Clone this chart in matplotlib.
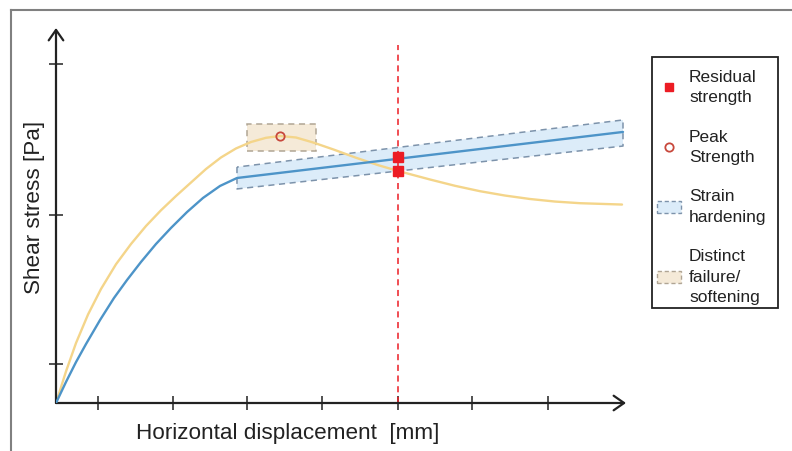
import matplotlib
matplotlib.use("Agg")
import matplotlib.pyplot as plt
from matplotlib.lines import Line2D
from matplotlib.patches import Patch, Rectangle

plt.rcParams['font.family'] = ['Liberation Sans', 'DejaVu Sans']

# ---------------- data (arbitrary units: displacement [mm], stress [Pa]) ----------------
# softening curve (yellow): rises to a distinct peak, then drops to a residual level
soft_x = [0, 0.133, 0.267, 0.427, 0.6, 0.8, 1.0, 1.2, 1.4, 1.6, 1.8, 2.0, 2.2, 2.4,
          2.6, 2.8, 2.987, 3.2, 3.427, 3.7, 4.0, 4.3, 4.56, 4.987, 5.32, 5.653,
          5.987, 6.32, 6.653, 6.987, 7.547]
soft_y = [0, 0.21, 0.40, 0.59, 0.76, 0.925, 1.06, 1.18, 1.285, 1.38, 1.47, 1.56,
          1.637, 1.697, 1.74, 1.768, 1.78, 1.77, 1.737, 1.69, 1.635, 1.585, 1.547,
          1.49, 1.448, 1.412, 1.383, 1.36, 1.343, 1.332, 1.323]

# hardening curve (blue): rises, then keeps increasing linearly
hard_x = [0, 0.133, 0.267, 0.4, 0.587, 0.773, 0.947, 1.133, 1.333, 1.533, 1.747,
          1.96, 2.187, 2.413, 7.56]
hard_y = [0, 0.14, 0.273, 0.393, 0.553, 0.70, 0.82, 0.94, 1.06, 1.167, 1.273,
          1.367, 1.447, 1.50, 1.807]

band_x = [2.413, 7.56]
band_lo = [1.427, 1.713]
band_hi = [1.573, 1.887]

peak_box_x = [2.547, 3.467]
peak_box_y = [1.68, 1.86]

peak_x, peak_y = 2.987, 1.78
resid_x = [4.56, 4.56]
resid_y = [1.64, 1.547]
resid_line_top = 2.387

x_ticks = [0.56, 1.56, 2.55, 3.55, 4.56, 5.55, 6.56]
y_ticks = [0.26, 1.25, 2.26]

legend_labels = ["Residual\nstrength", "Peak\nStrength", "Strain\nhardening",
                 "Distinct\nfailure/\nsoftening"]

# ---------------- colours ----------------
c_yellow = '#f4d58a'
c_blue = '#4d94c8'
c_red = '#ec1c24'
c_circle = '#c8483c'
c_band = '#dcecf9'
c_band_edge = '#7d93ab'
c_box = '#f5ead8'
c_box_edge = '#b0a594'
c_text = '#222222'

W, H = 792, 451
fig = plt.figure(figsize=(W / 100, H / 100), dpi=100)
ax = fig.add_axes([56 / W, (H - 403) / H, (626 - 56) / W, (403 - 28) / H])
ax.set_xlim(0, 7.6)
ax.set_ylim(0, 2.5)
for s in ax.spines.values():
    s.set_visible(False)

# band + box
ax.fill_between(band_x, band_lo, band_hi, facecolor=c_band, edgecolor=c_band_edge,
                linestyle=(0, (4, 3)), linewidth=1.1, zorder=1)
ax.add_patch(Rectangle((peak_box_x[0], peak_box_y[0]), peak_box_x[1] - peak_box_x[0],
                       peak_box_y[1] - peak_box_y[0], facecolor=c_box, edgecolor=c_box_edge,
                       linestyle=(0, (4, 3)), linewidth=1.1, zorder=1))

# curves
ax.plot(soft_x, soft_y, color=c_yellow, lw=1.7, zorder=3, solid_capstyle='round',
        solid_joinstyle='round')
ax.plot(hard_x, hard_y, color=c_blue, lw=1.7, zorder=4, solid_capstyle='round',
        solid_joinstyle='round')

# residual line and markers
ax.plot([resid_x[0], resid_x[0]], [0, resid_line_top], color=c_red, lw=1.1,
        linestyle=(0, (4, 3)), zorder=2)
ax.plot(resid_x, resid_y, linestyle='none', marker='s', ms=7.5, color=c_red, zorder=5)
ax.plot([peak_x], [peak_y], linestyle='none', marker='o', ms=6, mfc='none',
        mec=c_circle, mew=1.3, zorder=5)

# axes with arrows
arrow = dict(arrowstyle='->,head_length=0.5,head_width=0.35', lw=1.6, color=c_text,
             shrinkA=0, shrinkB=0, mutation_scale=15)
ax.annotate('', xy=(1, 0), xytext=(0, 0), xycoords='axes fraction', arrowprops=arrow)
ax.annotate('', xy=(0, 1), xytext=(0, 0), xycoords='axes fraction', arrowprops=arrow)

ax.set_xticks(x_ticks)
ax.set_yticks(y_ticks)
ax.set_xticklabels([])
ax.set_yticklabels([])
ax.tick_params(direction='inout', length=10, width=1.1, color=c_text)

fig.text(288 / W, 1 - 433 / H, "Horizontal displacement  [mm]", ha='center', va='center',
         fontsize=16.2, color=c_text)
fig.text(35 / W, 1 - 207 / H, "Shear stress [Pa]", ha='center', va='center',
         rotation=90, fontsize=16.2, color=c_text)

# legend (frame drawn separately)
fig.add_artist(Rectangle((652 / W, 1 - 308 / H), 126 / W, 251 / H,
                         transform=fig.transFigure, facecolor='white',
                         edgecolor=c_text, lw=1.3, zorder=4))
handles = [
    Line2D([], [], linestyle='none', marker='s', ms=6, color=c_red),
    Line2D([], [], linestyle='none', marker='o', ms=6, mfc='none', mec=c_circle, mew=1.3),
    Patch(facecolor=c_band, edgecolor=c_band_edge, linestyle=(0, (3, 2)), linewidth=1.0),
    Patch(facecolor=c_box, edgecolor=c_box_edge, linestyle=(0, (3, 2)), linewidth=1.0),
]
leg = fig.legend(handles, legend_labels, loc='upper left',
                 bbox_to_anchor=(657 / W, 1 - 70 / H), fontsize=12.5,
                 frameon=False, labelspacing=1.4, handlelength=1.4, handleheight=0.75,
                 handletextpad=0.45, borderpad=0, borderaxespad=0)
leg.set_zorder(5)
for t in leg.get_texts():
    t.set_color(c_text)
    t.set_linespacing(1.45)

# outer frame (top and left edges visible)
fig.add_artist(Line2D([11 / W, 1], [1 - 10 / H, 1 - 10 / H], color='#808080', lw=1.5,
                      transform=fig.transFigure))
fig.add_artist(Line2D([11 / W, 11 / W], [0, 1 - 10 / H], color='#808080', lw=1.5,
                      transform=fig.transFigure))

fig.savefig('out.png', dpi=100)
